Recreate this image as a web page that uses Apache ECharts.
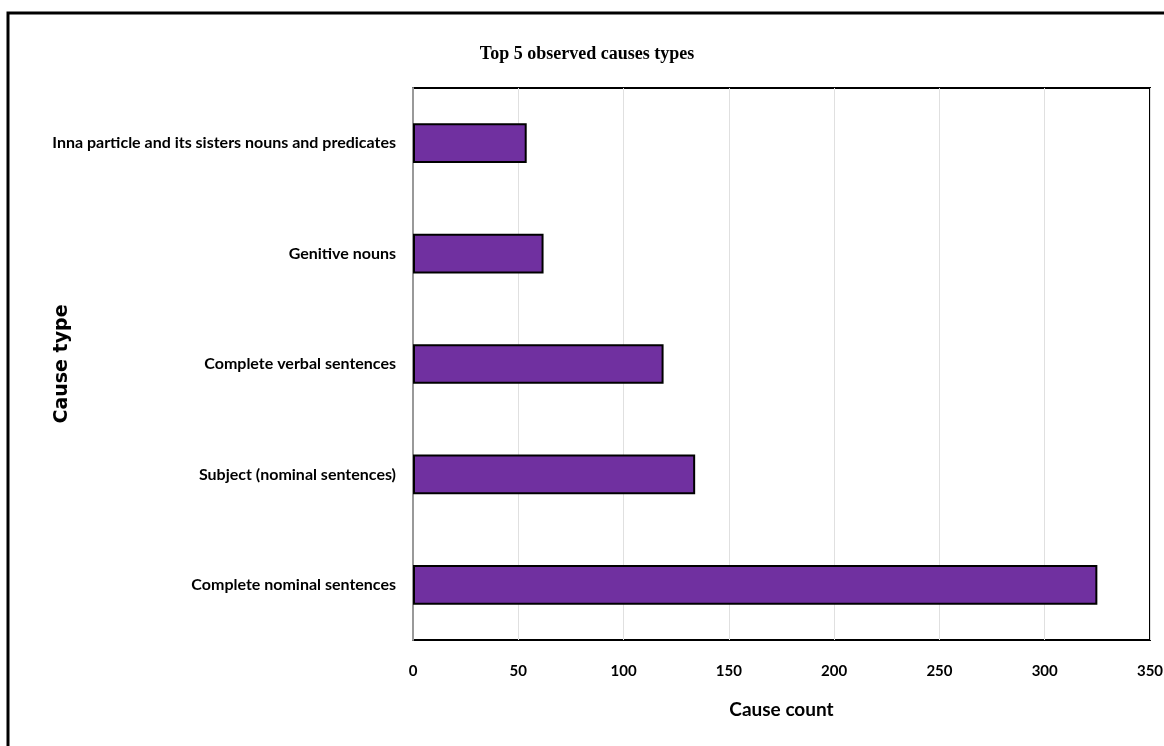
<!DOCTYPE html>
<html>
<head>
<meta charset="utf-8">
<style>
  html, body { margin: 0; padding: 0; background: #fff; }
  #chart { width: 1164px; height: 746px; }
</style>
<script src="https://cdn.jsdelivr.net/npm/echarts@6/dist/echarts.min.js"></script>
</head>
<body>
<div id="chart"></div>
<script>
// Cause types, listed top to bottom
const causeTypes = [
  'Inna particle and its sisters nouns and predicates',
  'Genitive nouns',
  'Complete verbal sentences',
  'Subject (nominal sentences)',
  'Complete nominal sentences'
];
const causeCounts = [54, 62, 119, 134, 325];
const countTicks = [0, 50, 100, 150, 200, 250, 300, 350];

const chart = echarts.init(document.getElementById('chart'), null, { renderer: 'canvas' });

const labelFont = 'Lato, "Open Sans", sans-serif';

chart.setOption({
  backgroundColor: '#fff',
  animation: false,
  title: {
    text: 'Top 5 observed causes types',
    left: 582,
    textAlign: 'center',
    top: 40,
    textStyle: {
      fontFamily: '"Liberation Serif", "Times New Roman", serif',
      fontWeight: 'bold',
      fontSize: 18,
      color: '#000'
    }
  },
  graphic: [
    {
      type: 'polyline',
      shape: { points: [[8, 746], [8, 13], [1164, 13]] },
      style: { stroke: '#000', lineWidth: 3, fill: null },
      z: 10
    }
  ],
  grid: {
    left: 413,
    right: 14,
    top: 88,
    bottom: 106,
    show: true,
    borderColor: '#000',
    borderWidth: 2,
    containLabel: false,
    outerBoundsMode: 'none'
  },
  xAxis: {
    type: 'value',
    min: countTicks[0],
    max: countTicks[countTicks.length - 1],
    interval: countTicks[1] - countTicks[0],
    name: 'Cause count',
    nameLocation: 'middle',
    nameGap: 60,
    nameTextStyle: {
      fontFamily: labelFont,
      fontWeight: 'bold',
      fontSize: 19,
      color: '#000'
    },
    axisLine: { show: false },
    axisTick: { show: false },
    axisLabel: {
      margin: 24,
      fontFamily: labelFont,
      fontWeight: 'bold',
      fontSize: 15,
      color: '#000'
    },
    splitLine: { show: true, lineStyle: { color: '#e0e0e0', width: 1 } }
  },
  yAxis: {
    type: 'category',
    data: causeTypes,
    inverse: true,
    name: 'Cause type',
    nameLocation: 'middle',
    nameGap: 341,
    nameMoveOverlap: false,
    nameRotate: 90,
    nameTextStyle: {
      fontFamily: 'DejaVu Sans',
      fontWeight: 'bold',
      fontSize: 19,
      color: '#000'
    },
    axisLine: { show: true, lineStyle: { color: '#999', width: 2 } },
    axisTick: { show: false },
    axisLabel: {
      margin: 17,
      fontFamily: labelFont,
      fontWeight: 'bold',
      fontSize: 16,
      color: '#000'
    },
    splitLine: { show: false }
  },
  series: [
    {
      type: 'bar',
      data: causeCounts,
      barWidth: '36%',
      itemStyle: {
        color: '#7030A0',
        borderColor: '#000',
        borderWidth: 2
      }
    }
  ]
});
</script>
</body>
</html>
